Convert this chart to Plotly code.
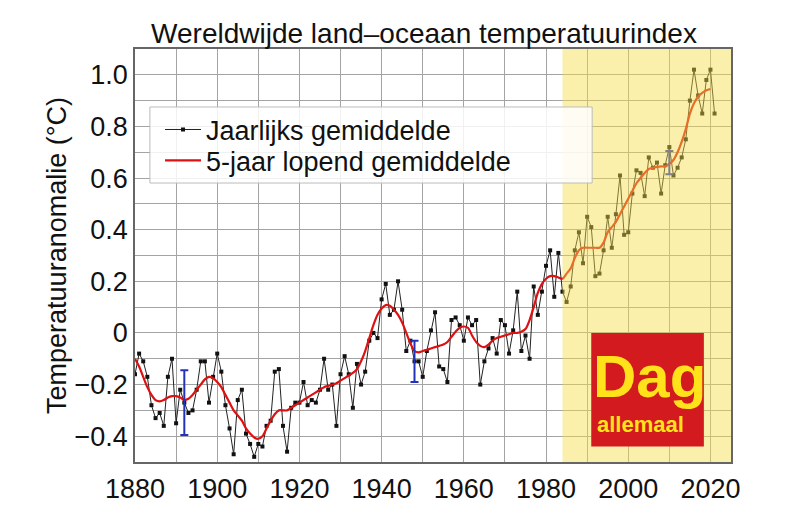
import plotly.graph_objects as go

years = list(range(1880, 2022))
annual = [
    -0.16, -0.08, -0.11, -0.17, -0.28, -0.33, -0.31, -0.36, -0.17, -0.10,
    -0.35, -0.22, -0.27, -0.31, -0.30, -0.22, -0.11, -0.11, -0.27, -0.17,
    -0.08, -0.15, -0.28, -0.37, -0.47, -0.26, -0.22, -0.39, -0.43, -0.48,
    -0.43, -0.44, -0.36, -0.34, -0.15, -0.14, -0.36, -0.46, -0.29, -0.27,
    -0.27, -0.19, -0.28, -0.26, -0.27, -0.22, -0.10, -0.22, -0.20, -0.36,
    -0.16, -0.09, -0.16, -0.29, -0.12, -0.20, -0.15, -0.03, -0.00, -0.02,
    0.13, 0.19, 0.07, 0.09, 0.20, 0.09, -0.07, -0.03, -0.11, -0.11,
    -0.17, -0.07, 0.01, 0.08, -0.13, -0.14, -0.19, 0.05, 0.06, 0.03,
    -0.03, 0.06, 0.03, 0.05, -0.20, -0.11, -0.06, -0.02, -0.08, 0.05,
    0.03, -0.08, 0.01, 0.16, -0.07, -0.01, -0.10, 0.18, 0.07, 0.16,
    0.26, 0.32, 0.14, 0.31, 0.16, 0.12, 0.18, 0.32, 0.39, 0.27,
    0.45, 0.41, 0.22, 0.23, 0.32, 0.45, 0.33, 0.46, 0.61, 0.38,
    0.39, 0.54, 0.63, 0.62, 0.53, 0.68, 0.64, 0.66, 0.54, 0.65,
    0.72, 0.61, 0.64, 0.68, 0.75, 0.90, 1.02, 0.92, 0.85, 0.98,
    1.02, 0.85,
]

smooth_years = list(range(1880, 2021))
smooth = [
    -0.10, -0.13, -0.17, -0.21, -0.24, -0.26, -0.265, -0.26, -0.25, -0.245,
    -0.245, -0.25, -0.26, -0.255, -0.24, -0.22, -0.20, -0.18, -0.17, -0.175,
    -0.19, -0.21, -0.24, -0.27, -0.30, -0.32, -0.34, -0.37, -0.39, -0.405,
    -0.41, -0.40, -0.37, -0.34, -0.315, -0.30, -0.30, -0.30, -0.29, -0.28,
    -0.27, -0.26, -0.25, -0.24, -0.23, -0.22, -0.21, -0.205, -0.20, -0.195,
    -0.185, -0.175, -0.165, -0.155, -0.14, -0.11, -0.07, -0.02, 0.03, 0.07,
    0.095, 0.108, 0.105, 0.09, 0.07, 0.04, 0.0, -0.04, -0.07, -0.075,
    -0.07, -0.065, -0.06, -0.055, -0.05, -0.045, -0.035, -0.015, 0.005, 0.02,
    0.025, 0.02, -0.01, -0.035, -0.05, -0.055, -0.045, -0.03, -0.02, -0.015,
    -0.01, -0.005, 0.0, 0.0, 0.005, 0.015, 0.05, 0.10, 0.155, 0.19,
    0.21, 0.22, 0.22, 0.215, 0.21, 0.23, 0.25, 0.29, 0.32, 0.33,
    0.33, 0.33, 0.33, 0.33, 0.35, 0.39, 0.41, 0.43, 0.46, 0.49,
    0.52, 0.55, 0.58, 0.60, 0.62, 0.635, 0.64, 0.643, 0.645, 0.645,
    0.655, 0.67, 0.70, 0.74, 0.79, 0.85, 0.89, 0.915, 0.93, 0.94,
    0.945,
]

err_years = [1892, 1948, 2010]
err_center = [-0.27, -0.11, 0.66]
err_half = [0.125, 0.08, 0.045]

x_ticks = [1880, 1900, 1920, 1940, 1960, 1980, 2000, 2020]
y_tickvals = [-0.4, -0.2, 0, 0.2, 0.4, 0.6, 0.8, 1.0]
y_ticktext = ["\u22120.4", "\u22120.2", "0", "0.2", "0.4", "0.6", "0.8", "1.0"]

FONT = "Liberation Sans, Arial, sans-serif"

fig = go.Figure()
fig.add_trace(go.Scatter(
    x=years, y=annual, mode="lines+markers", name="Jaarlijks gemiddelde",
    line=dict(color="#222222", width=1),
    marker=dict(symbol="square", size=4, color="#111111"),
    legend="legend",
))
fig.add_trace(go.Scatter(
    x=smooth_years, y=smooth, mode="lines", name="5-jaar lopend gemiddelde",
    line=dict(color="#dd1111", width=2.2, shape="spline", smoothing=0.8),
    legend="legend2",
))
fig.add_trace(go.Scatter(
    x=err_years, y=err_center, mode="markers", showlegend=False,
    marker=dict(size=1, color="rgba(0,0,0,0)"),
    error_y=dict(type="data", array=err_half, color="#2233bb", thickness=2, width=4),
))

# highlighted recent period (semi-transparent overlay)
fig.add_shape(type="rect", xref="x", yref="paper", x0=1984, x1=2025, y0=0, y1=1,
              fillcolor="rgba(245,222,70,0.45)", line=dict(width=0), layer="above")
# legend box
fig.add_shape(type="rect", xref="paper", yref="paper", x0=0.025, x1=0.767, y0=0.6755, y1=0.8596,
              fillcolor="rgba(255,255,255,0.85)", line=dict(color="#bbbbbb", width=1), layer="above")
# logo
fig.add_shape(type="rect", xref="x", yref="y", x0=1991.0, x1=2018.4, y0=-0.44, y1=0.0,
              fillcolor="#d21a1f", line=dict(width=0), layer="above")

fig.add_annotation(x=2005.2, y=-0.17, xref="x", yref="y", text="<b>Dag</b>",
                   showarrow=False, font=dict(family=FONT, size=60, color="#ffe21a"))
fig.add_annotation(x=2003, y=-0.355, xref="x", yref="y", text="<b>allemaal</b>",
                   showarrow=False, font=dict(family=FONT, size=22, color="#ffe21a"))

grid = "#a4a4a4"
leg_common = dict(xanchor="left", yanchor="middle", bgcolor="rgba(0,0,0,0)", borderwidth=0,
                  font=dict(size=27), itemwidth=36)
fig.update_layout(
    width=800, height=511,
    margin=dict(l=135, r=69, t=49, b=49, autoexpand=False),
    paper_bgcolor="white", plot_bgcolor="white",
    font=dict(family=FONT, size=27, color="#111111"),
    title=dict(text="Wereldwijde land\u2013oceaan temperatuurindex", x=0.53, xanchor="center",
               y=0.954, yanchor="top", font=dict(size=28)),
    showlegend=True,
    legend=dict(x=0.042, y=0.804, **leg_common),
    legend2=dict(x=0.042, y=0.729, **leg_common),
    xaxis=dict(range=[1880, 2025], tickvals=x_ticks, showgrid=True, gridcolor=grid, gridwidth=1,
               minor=dict(dtick=10, tick0=1880, showgrid=True, gridcolor=grid, gridwidth=1),
               showline=True, linecolor="#666666", linewidth=1.5, mirror=True,
               ticks="outside", ticklen=2, tickcolor="rgba(0,0,0,0)", zeroline=False,
               automargin=False, tickfont=dict(size=27)),
    yaxis=dict(range=[-0.5, 1.1], tickvals=y_tickvals, ticktext=y_ticktext,
               showgrid=True, gridcolor=grid, gridwidth=1,
               minor=dict(dtick=0.1, tick0=0, showgrid=True, gridcolor=grid, gridwidth=1),
               showline=True, linecolor="#666666", linewidth=1.5, mirror=True,
               ticks="", zeroline=False, automargin=False,
               title=dict(text="Temperatuuranomalie (\u00b0C)", standoff=0, font=dict(size=27)),
               tickfont=dict(size=27)),
)

fig.write_html("out.html")
